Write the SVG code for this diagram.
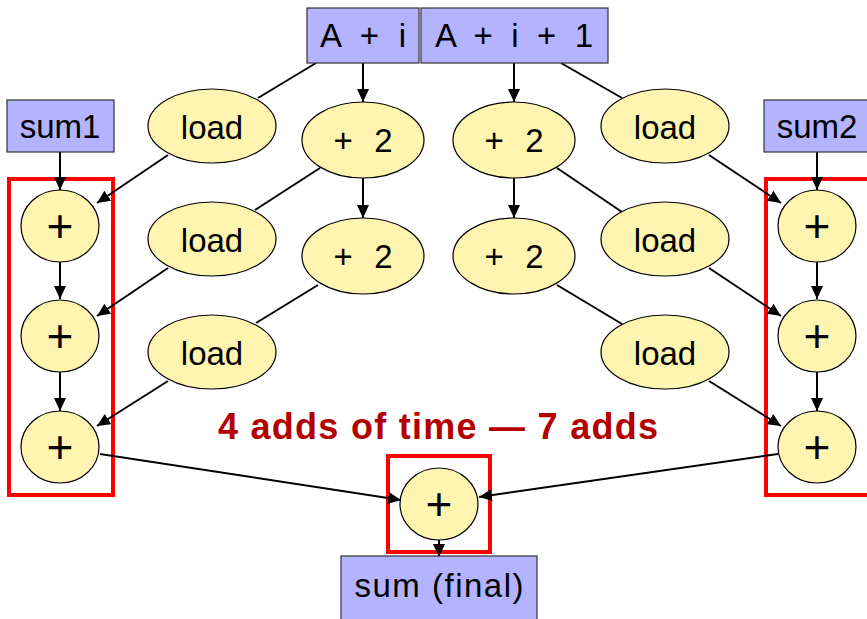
<svg xmlns="http://www.w3.org/2000/svg" width="867" height="619" viewBox="0 0 867 619">
<defs>
<marker id="ah" markerUnits="userSpaceOnUse" markerWidth="14" markerHeight="12" refX="13" refY="6" orient="auto">
<path d="M0,0 L13,6 L0,12 Z" fill="#000"/>
</marker>
<style>
.box{fill:#b3b3ff;stroke:#333;stroke-width:1.2}
.ell{fill:#fff5b0;stroke:#000;stroke-width:1.2}
.lbl{font-family:"Liberation Sans",Arial,sans-serif;font-size:33px;fill:#000;text-anchor:middle}
.plus{font-family:"Liberation Sans",Arial,sans-serif;font-size:46px;fill:#000;text-anchor:middle}
.edge{stroke:#000;stroke-width:2;fill:none}
.arr{marker-end:url(#ah)}
.red{fill:none;stroke:#ff0000;stroke-width:4}
.title{font-family:"Liberation Sans",Arial,sans-serif;font-size:36px;font-weight:bold;fill:#b30000;text-anchor:middle}
</style>
</defs>
<rect width="867" height="619" fill="#fff"/>

<g id="groups">
<rect class="red" x="9" y="179" width="104" height="316"/>
<rect class="red" x="766" y="179" width="104" height="316"/>
<rect class="red" x="388" y="456" width="102" height="96"/>
</g>

<g id="connectors">
<line class="edge arr" x1="363" y1="63" x2="363" y2="102"/>
<line class="edge" x1="316" y1="63" x2="258" y2="98"/>
<line class="edge arr" x1="168" y1="155" x2="97" y2="203"/>
<line class="edge arr" x1="363" y1="178" x2="363" y2="218"/>
<line class="edge" x1="320" y1="168" x2="255" y2="210"/>
<line class="edge arr" x1="168" y1="268" x2="97" y2="316"/>
<line class="edge" x1="318" y1="285" x2="256" y2="323"/>
<line class="edge arr" x1="168" y1="381" x2="97" y2="426"/>
<line class="edge arr" x1="60" y1="152" x2="60" y2="190"/>
<line class="edge arr" x1="60" y1="262" x2="60" y2="299"/>
<line class="edge arr" x1="60" y1="372" x2="60" y2="411"/>
<line class="edge arr" x1="100" y1="454" x2="401" y2="500"/>

<line class="edge arr" x1="514" y1="63" x2="514" y2="102"/>
<line class="edge" x1="561" y1="63" x2="622" y2="98"/>
<line class="edge arr" x1="709" y1="155" x2="781" y2="203"/>
<line class="edge arr" x1="514" y1="178" x2="514" y2="218"/>
<line class="edge" x1="557" y1="168" x2="622" y2="212"/>
<line class="edge arr" x1="709" y1="268" x2="781" y2="316"/>
<line class="edge" x1="557" y1="285" x2="622" y2="324"/>
<line class="edge arr" x1="709" y1="381" x2="781" y2="426"/>
<line class="edge arr" x1="817" y1="152" x2="817" y2="190"/>
<line class="edge arr" x1="817" y1="262" x2="817" y2="299"/>
<line class="edge arr" x1="817" y1="372" x2="817" y2="411"/>
<line class="edge arr" x1="778" y1="454" x2="479" y2="497"/>

<line class="edge arr" x1="439" y1="538" x2="439" y2="557"/>
</g>

<g id="n-ai"><rect class="box" x="307" y="8" width="112" height="55"/><text class="lbl" x="363" y="47" font-size="35" textLength="86">A + i</text></g>
<g id="n-ai1"><rect class="box" x="421" y="8" width="187" height="55"/><text class="lbl" x="514" y="47" font-size="35" textLength="158">A + i + 1</text></g>
<g id="n-sum1"><rect class="box" x="7" y="100" width="107" height="52"/><text class="lbl" x="60" y="138">sum1</text></g>
<g id="n-sum2"><rect class="box" x="764" y="100" width="110" height="52"/><text class="lbl" x="817" y="138">sum2</text></g>
<g id="n-final"><rect class="box" x="341" y="556" width="196" height="70"/><text class="lbl" x="439" y="597" textLength="169">sum (final)</text></g>

<g id="n-load1"><ellipse class="ell" cx="212" cy="126" rx="64" ry="37"/><text class="lbl" x="212" y="139">load</text></g>
<g id="n-load2"><ellipse class="ell" cx="212" cy="239" rx="64" ry="37"/><text class="lbl" x="212" y="252">load</text></g>
<g id="n-load3"><ellipse class="ell" cx="212" cy="352" rx="64" ry="37"/><text class="lbl" x="212" y="365">load</text></g>
<g id="n-loadr1"><ellipse class="ell" cx="665" cy="126" rx="64" ry="37"/><text class="lbl" x="665" y="139">load</text></g>
<g id="n-loadr2"><ellipse class="ell" cx="665" cy="239" rx="64" ry="37"/><text class="lbl" x="665" y="252">load</text></g>
<g id="n-loadr3"><ellipse class="ell" cx="665" cy="352" rx="64" ry="37"/><text class="lbl" x="665" y="365">load</text></g>

<g id="n-p2a"><ellipse class="ell" cx="363" cy="140" rx="61" ry="38"/><text class="lbl" x="363" y="152" textLength="59">+ 2</text></g>
<g id="n-p2b"><ellipse class="ell" cx="363" cy="256" rx="61" ry="38"/><text class="lbl" x="363" y="268" textLength="59">+ 2</text></g>
<g id="n-p2c"><ellipse class="ell" cx="514" cy="140" rx="61" ry="38"/><text class="lbl" x="514" y="152" textLength="59">+ 2</text></g>
<g id="n-p2d"><ellipse class="ell" cx="514" cy="256" rx="61" ry="38"/><text class="lbl" x="514" y="268" textLength="59">+ 2</text></g>

<g id="n-l1"><ellipse class="ell" cx="60" cy="226" rx="39" ry="36"/><text class="plus" x="60" y="242">+</text></g>
<g id="n-l2"><ellipse class="ell" cx="60" cy="336" rx="39" ry="36"/><text class="plus" x="60" y="352">+</text></g>
<g id="n-l3"><ellipse class="ell" cx="60" cy="447" rx="39" ry="36"/><text class="plus" x="60" y="463">+</text></g>
<g id="n-r1"><ellipse class="ell" cx="817" cy="226" rx="39" ry="36"/><text class="plus" x="817" y="242">+</text></g>
<g id="n-r2"><ellipse class="ell" cx="817" cy="336" rx="39" ry="36"/><text class="plus" x="817" y="352">+</text></g>
<g id="n-r3"><ellipse class="ell" cx="817" cy="447" rx="39" ry="36"/><text class="plus" x="817" y="463">+</text></g>
<g id="n-fin"><ellipse class="ell" cx="439" cy="504" rx="39" ry="36"/><text class="plus" x="439" y="520">+</text></g>

<text class="title" x="438" y="439" textLength="440">4 adds of time — 7 adds</text>
</svg>
